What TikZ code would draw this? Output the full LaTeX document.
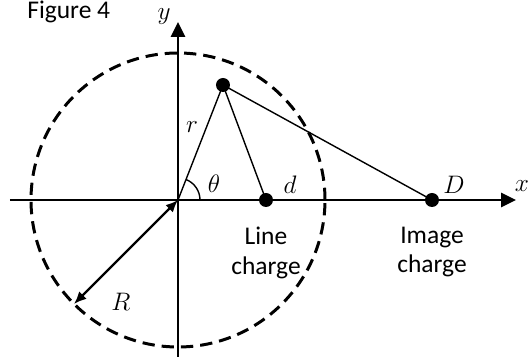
\documentclass[tikz,border=0pt]{standalone}
\usepackage{fontspec}
\newfontfamily\labelfont{Carlito}
\usepackage{tikz}
\usetikzlibrary{positioning, calc, arrows.meta}

\begin{document}
\begin{tikzpicture}[
      x=0.02cm, y=0.02cm,
      axis/.style={line width=1.5pt, -{Triangle[length=8.5pt, width=8pt]}},
      charge/.style={circle, fill=black, minimum size=0.28cm, inner sep=0pt},
      seg/.style={line width=0.8pt},
      mathlabel/.style={font=\fontsize{15}{18}\selectfont, inner sep=1pt},
      textlabel/.style={font=\labelfont\fontsize{14.5}{17}\selectfont, align=center, inner sep=0pt}
    ]
      \useasboundingbox (-178,-158) rectangle (354,200);

      % Caption at the page top
      \node[textlabel, anchor=north west] (caption) at (-151,199) {Figure 4};

      % Conductor boundary
      \coordinate (O) at (0,0);
      \draw[line width=1.7pt, dash pattern=on 7pt off 4pt] (O) circle (147);

      % Axes
      \coordinate (xstart) at (-168,0);
      \coordinate (xend) at (338,0);
      \coordinate (ystart) at (0,-157);
      \coordinate (yend) at (0,178);
      \draw[axis] (xstart) -- (xend);
      \draw[axis] (ystart) -- (yend);
      \node[mathlabel] (xlab) at (344,14) {$x$};
      \node[mathlabel] (ylab) at (-14,183) {$y$};

      % Charges and field point
      \node[charge] (P) at (45,115) {};
      \node[charge] (line) at (88,0) {};
      \node[charge] (image) at (254,0) {};
      \draw[seg] (O) -- (P.center) -- (line.center);
      \draw[seg] (P.center) -- (image.center);

      % Angle theta
      \draw[seg] (22,0) arc[start angle=0, end angle=68.6, radius=22];
      \node[mathlabel] (theta) at (36,16) {$\theta$};
      \node[mathlabel] (rlab) at (14,73) {$r$};
      \node[mathlabel] (dlab) at (112,15) {$d$};
      \node[mathlabel] (Dlab) at (276,15) {$D$};

      % Radius R
      \coordinate (rim) at (225:147);
      \draw[line width=1.3pt, {Latex[length=7pt, width=6pt]}-{Latex[length=7pt, width=6pt]}] (rim) -- (O);
      \node[mathlabel] (Rlab) at (-57,-102) {$R$};

      % Charge names
      \node[textlabel, below=0.38cm of line] (linetext) {Line\\charge};
      \node[textlabel, below=0.38cm of image] (imagetext) {Image\\charge};
    \end{tikzpicture}
\end{document}
